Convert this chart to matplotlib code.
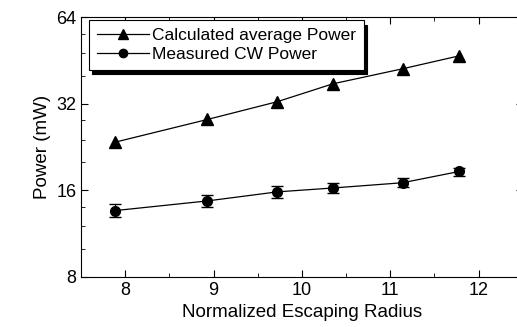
import matplotlib
matplotlib.use('Agg')
import matplotlib.pyplot as plt
from matplotlib.lines import Line2D
from matplotlib.ticker import FixedLocator, NullFormatter, MultipleLocator

# Data
radius = [7.88, 8.93, 9.72, 10.35, 11.14, 11.78]
calc_power = [23.5, 28.2, 32.5, 37.5, 42.3, 46.9]
meas_power = [13.6, 14.7, 15.8, 16.3, 17.0, 18.6]
meas_err = [0.7, 0.7, 0.7, 0.7, 0.6, 0.6]
labels = ['Calculated average Power', 'Measured CW Power']

plt.rcParams['font.family'] = ['Liberation Sans', 'DejaVu Sans']

fig = plt.figure(figsize=(5.17, 3.27), dpi=100)
ax = fig.add_axes([0.157, 0.153, 0.854, 0.795])

ax.plot(radius, calc_power, 'k-', marker='^', markersize=9, lw=0.9)
ax.errorbar(radius, meas_power, yerr=meas_err, fmt='k-', marker='o',
            markersize=7, lw=0.9, elinewidth=0.8, capsize=4)

ax.set_yscale('log', base=2)
ax.set_ylim(8, 64)
ax.set_xlim(7.5, 12.5)
ax.yaxis.set_major_locator(FixedLocator([8, 16, 32, 64]))
ax.set_yticklabels(['8', '16', '32', '64'])
minors = [v * m for v in [8, 16, 32] for m in [1.25, 1.5, 1.75]]
ax.yaxis.set_minor_locator(FixedLocator(minors))
ax.yaxis.set_minor_formatter(NullFormatter())
ax.xaxis.set_major_locator(MultipleLocator(1))
ax.xaxis.set_minor_locator(MultipleLocator(0.5))

ax.tick_params(which='both', direction='in', top=True, right=True, labelsize=13)
ax.tick_params(which='major', length=5)
ax.tick_params(which='minor', length=3)

ax.set_xlabel('Normalized Escaping Radius', fontsize=13.5)
ax.set_ylabel('Power (mW)', fontsize=13.5)

handles = [Line2D([], [], color='k', lw=0.9, marker='^', markersize=7),
           Line2D([], [], color='k', lw=0.9, marker='o', markersize=6)]
leg = ax.legend(handles, labels, loc='upper left', fontsize=12.5, fancybox=False,
                shadow={'color': 'black', 'alpha': 1, 'ox': 2, 'oy': -3},
                framealpha=1, edgecolor='black', borderpad=0.45,
                handlelength=3.0, handletextpad=0.2, labelspacing=0.2,
                borderaxespad=0.2, bbox_to_anchor=(0.01, 1.0))
leg.get_frame().set_linewidth(0.8)

plt.savefig('out.png', dpi=100)
